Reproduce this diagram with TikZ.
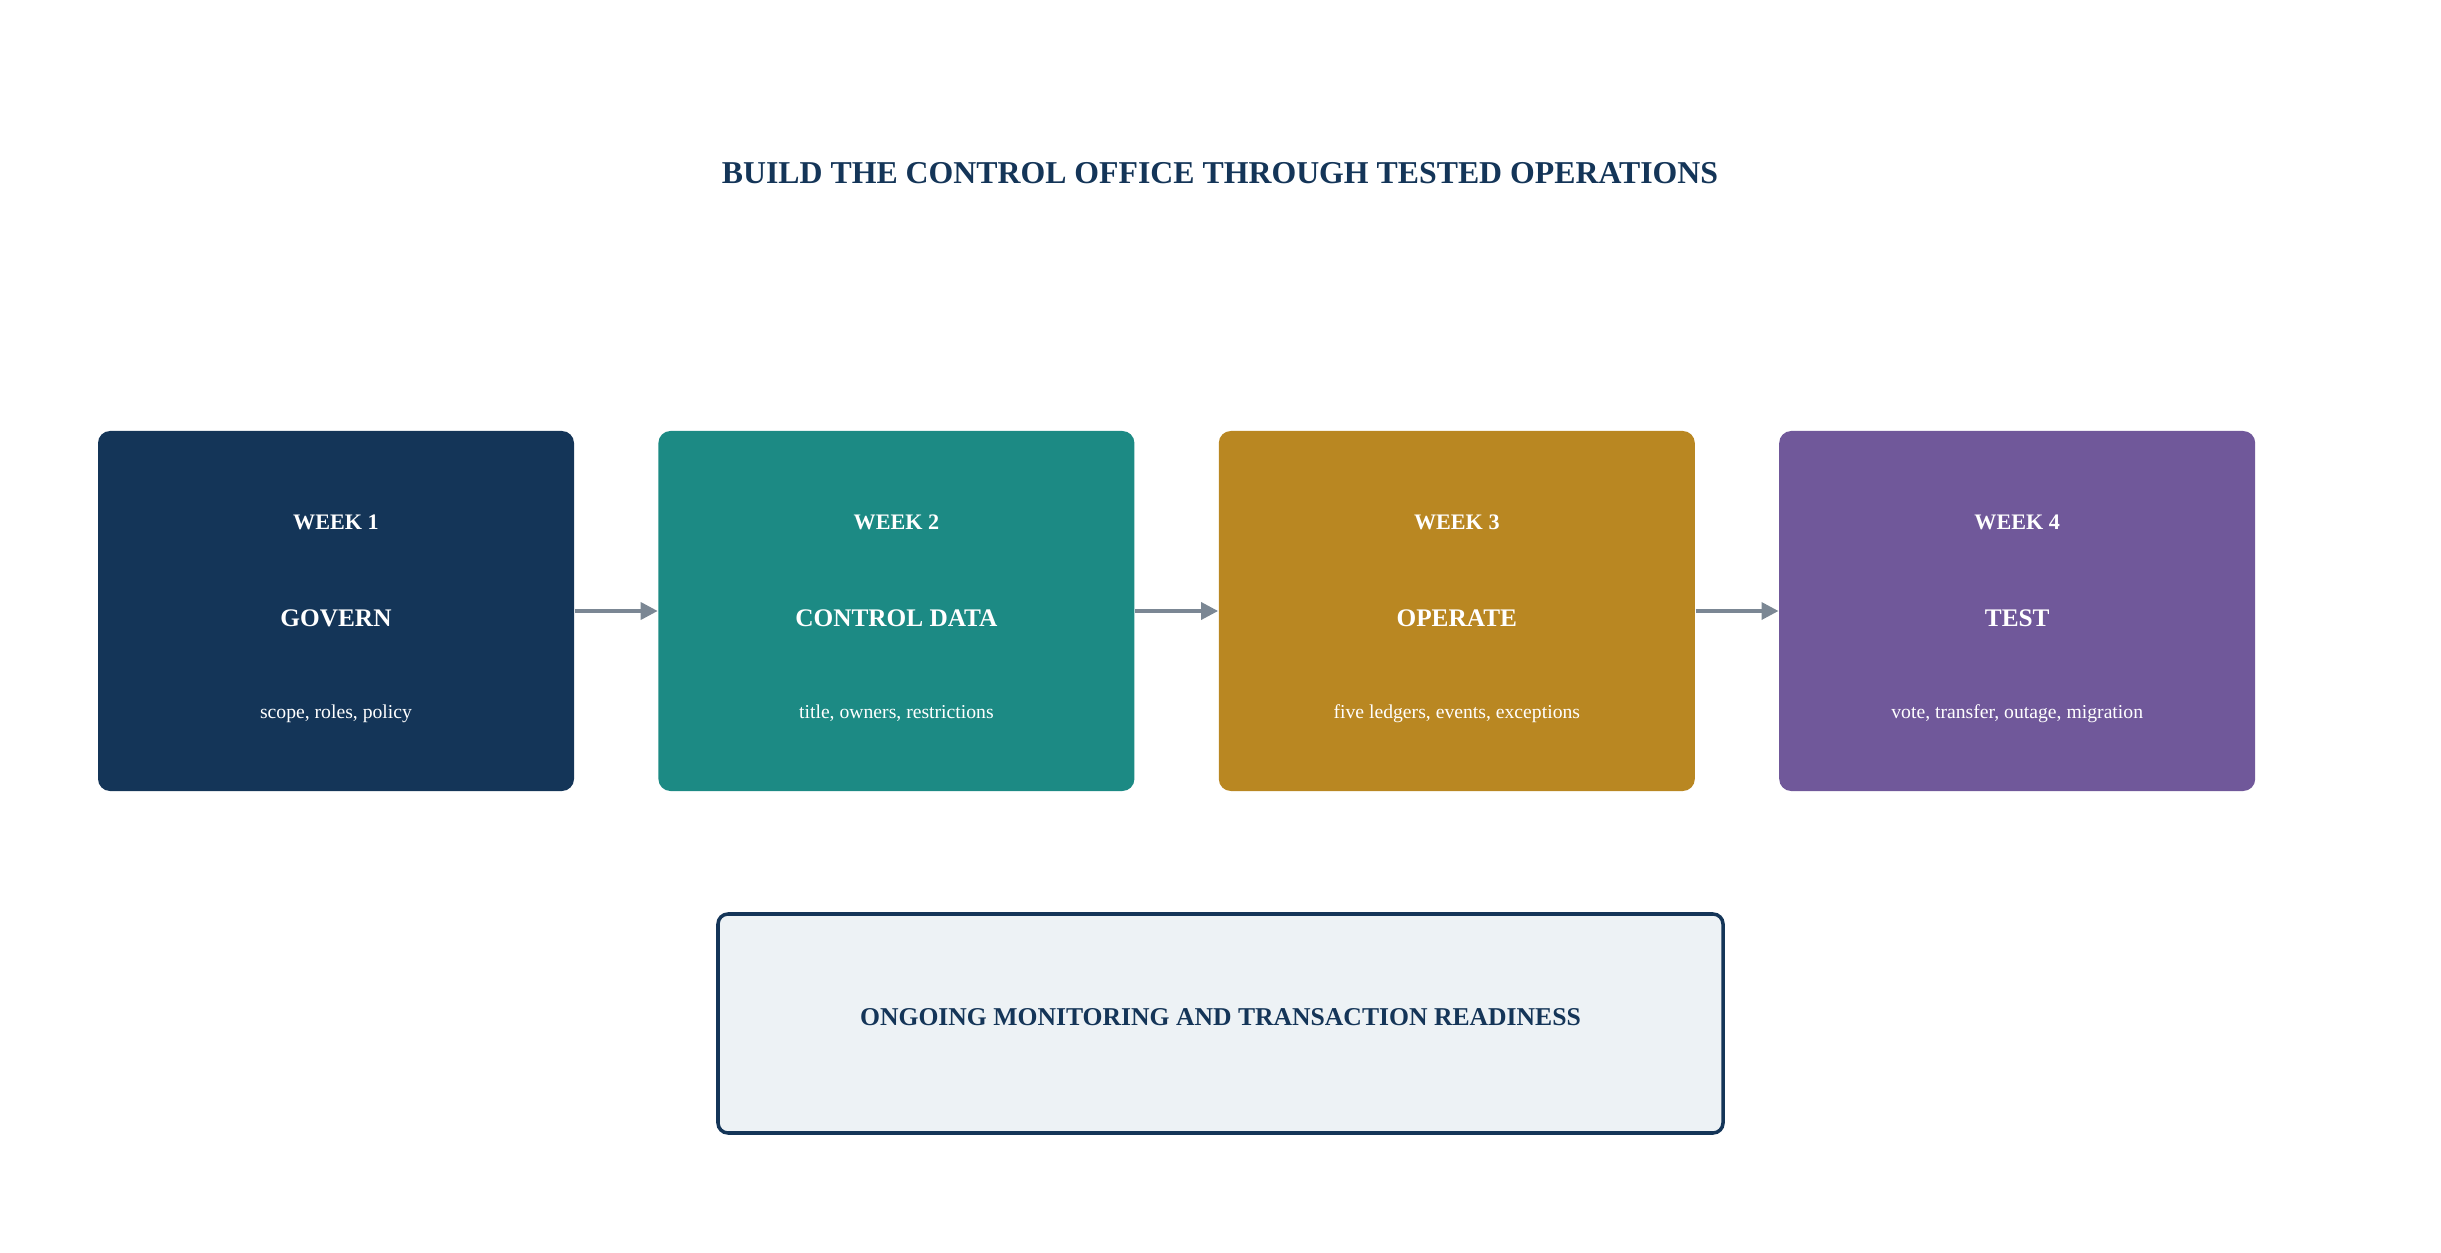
\documentclass[tikz,border=0pt]{standalone}
\usepackage{fontspec}
\setmainfont{Liberation Serif}
\usetikzlibrary{positioning}
\usetikzlibrary{arrows.meta}

\definecolor{navyblue}{HTML}{143558}
\definecolor{seateal}{HTML}{1C8A84}
\definecolor{ochre}{HTML}{B98722}
\definecolor{plum}{HTML}{70589A}
\definecolor{arrowgrey}{HTML}{7B8794}
\definecolor{panelgrey}{HTML}{EDF2F5}

\begin{document}
\begin{tikzpicture}[weekbox/.style={rounded corners=0.12cm,minimum width=4.76cm,minimum height=3.60cm,inner sep=0pt},
	weektag/.style={text=white,font=\bfseries\fontsize{6.3}{7}\selectfont},
	weekname/.style={text=white,font=\bfseries\fontsize{7.2}{9}\selectfont},
	weeksub/.style={text=white,font=\fontsize{5.6}{7}\selectfont},
	flowarrow/.style={draw=arrowgrey,line width=1pt,-{Triangle[length=0.17cm,width=0.17cm]}}]
\useasboundingbox (0,0) rectangle (24.41,-12.53);

%title
\node[text=navyblue,font=\bfseries\fontsize{9.05}{11}\selectfont] (title) at (12.20,-1.73) {BUILD THE CONTROL OFFICE THROUGH TESTED OPERATIONS};

%the four weeks
\node[weekbox,fill=navyblue] (w1) at (3.36,-6.11) {};
\node[weekbox,fill=seateal,right=0.83cm of w1] (w2) {};
\node[weekbox,fill=ochre,right=0.83cm of w2] (w3) {};
\node[weekbox,fill=plum,right=0.83cm of w3] (w4) {};

\foreach\i/\name/\sub in {1/GOVERN/{scope, roles, policy},2/CONTROL DATA/{title, owners, restrictions},
	3/OPERATE/{five ledgers, events, exceptions},4/TEST/{vote, transfer, outage, migration}}{
	\node[weektag] (t\i) at ([yshift=-0.92cm]w\i.north) {WEEK \i};
	\node[weekname] (n\i) at ([yshift=-0.07cm]w\i.center) {\name};
	\node[weeksub] (s\i) at ([yshift=-2.83cm]w\i.north) {\sub};
}

%arrows
\foreach\x/\y in {1/2,2/3,3/4}{
	\draw[flowarrow] (w\x) -- (w\y);}

%ongoing panel
\node[draw=navyblue,line width=1pt,fill=panelgrey,rounded corners=0.1cm,minimum width=10.05cm,minimum height=2.19cm] (ongoing) at (12.205,-10.235) {};
\node[text=navyblue,font=\bfseries\fontsize{7.3}{9}\selectfont] (ongoingtext) at ([yshift=0.06cm]ongoing.center) {ONGOING MONITORING AND TRANSACTION READINESS};
\end{tikzpicture}
\end{document}
